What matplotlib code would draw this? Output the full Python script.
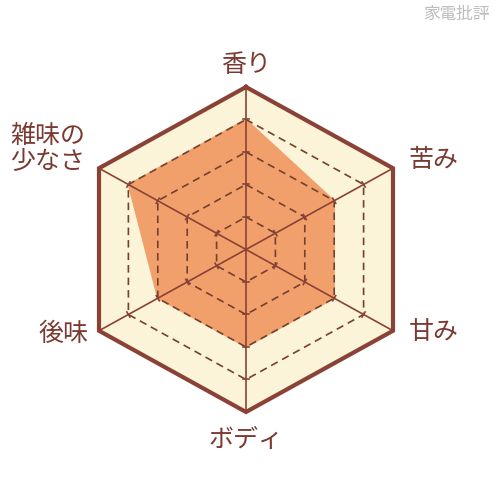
import numpy as np
import matplotlib
matplotlib.use("Agg")
import matplotlib.pyplot as plt

plt.rcParams['font.family'] = ['Noto Sans CJK JP', 'DejaVu Sans']

labels = ["香り", "苦み", "甘み", "ボディ", "後味", "雑味の\n少なさ"]
values = [4, 3, 3, 3, 3, 4]
levels = [1, 2, 3, 4]
max_level = 5

brown = "#8a4236"
dash_col = "#74402f"
text_col = "#7a3a31"
cream = "#fbf4d8"
orange = "#f2a06b"

theta = np.arange(len(labels)) * 2 * np.pi / len(labels)
sx, sy = np.sin(theta), np.cos(theta)


def ring(r):
    r = np.asarray(r, dtype=float) * np.ones(len(theta))
    return np.append(r * sx, r[0] * sx[0]), np.append(r * sy, r[0] * sy[0])


fig = plt.figure(figsize=(5, 5), dpi=100)
ax = fig.add_axes([0, 0, 1, 1])
ax.set_xlim(-7.246, 7.482)
ax.set_ylim(-7.708, 7.677)
ax.axis('off')

# outer band
x, y = ring(max_level)
ax.fill(x, y, color=cream, zorder=1)

# data polygon
x, y = ring(values)
ax.fill(x, y, color=orange, zorder=2)

# dashed level rings
for lv in levels:
    x, y = ring(lv)
    ax.plot(x, y, color=dash_col, lw=1.2, ls=(0, (4.5, 3)), zorder=3)

# spokes with small ticks
for i in range(len(theta)):
    ax.plot([0, max_level * sx[i]], [0, max_level * sy[i]], color=brown, lw=1.2, zorder=4)
    for lv in levels:
        px, py = lv * sx[i], lv * sy[i]
        d = 0.09
        ax.plot([px - d * sy[i], px + d * sy[i]], [py + d * sx[i], py - d * sx[i]],
                color=brown, lw=1.2, zorder=4)

# outer border
x, y = ring(max_level)
ax.plot(x, y, color=brown, lw=3.0, solid_joinstyle='miter', zorder=5)

# axis labels
label_pos = [(0, 5.67), (5.52, 2.75), (5.52, -2.55), (0, -5.85), (-5.38, -2.6), (-5.85, 3.1)]
for lab, (lx, ly) in zip(labels, label_pos):
    ax.text(lx, ly, lab, ha='center', va='center', fontsize=18, color=text_col,
            linespacing=1.0)

fig.text(0.913, 0.972, "家電批評", ha='center', va='center', fontsize=12, color="#bdbdbd")

fig.savefig("out.png", dpi=100, facecolor='white')
